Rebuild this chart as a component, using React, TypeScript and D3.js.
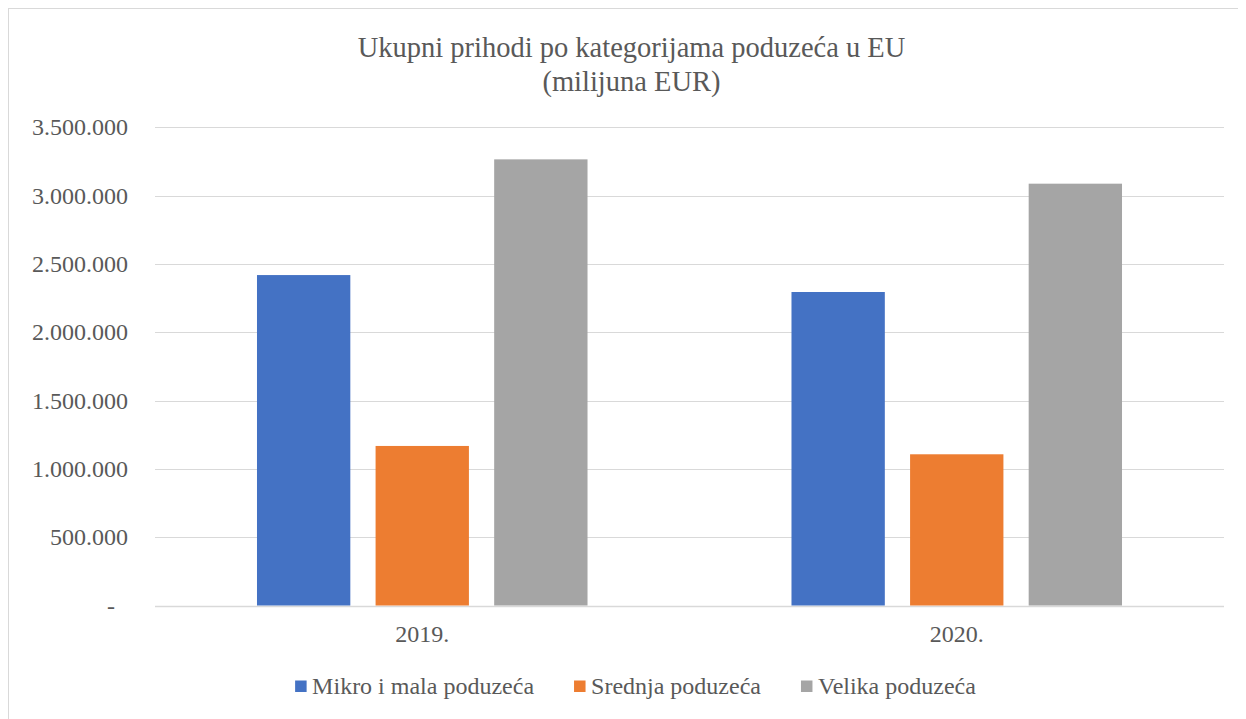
import React, { useEffect, useRef } from 'react';
import * as d3 from 'd3';

const years = ['2019.', '2020.'];
const seriesNames = ['Mikro i mala poduzeća', 'Srednja poduzeća', 'Velika poduzeća'];
const mikroValues = [2419000, 2295000];
const srednjaValues = [1168000, 1107000];
const velikaValues = [3266000, 3088000];
const yTicks = [0, 500000, 1000000, 1500000, 2000000, 2500000, 3000000, 3500000];
const colors = ['#4472C4', '#ED7D31', '#A5A5A5'];

const W = 1238;
const H = 711;
const FONT = '"Liberation Serif", "Times New Roman", serif';
const TEXT = '#595959';

export default function App() {
  const ref = useRef<SVGSVGElement>(null);

  useEffect(() => {
    const svg = d3.select(ref.current);
    svg.selectAll('*').remove();

    const margin = { left: 147, right: 22, top: 119.4, bottom: 113.5 };
    const values = [mikroValues, srednjaValues, velikaValues];

    // outer frame
    svg.append('rect')
      .attr('x', 0.5).attr('y', 0.5)
      .attr('width', W + 40).attr('height', H + 40)
      .attr('fill', '#fff').attr('stroke', '#d9d9d9');

    const title = svg.append('text')
      .attr('x', 623.5).attr('text-anchor', 'middle')
      .attr('font-family', FONT).attr('font-size', 28.5).attr('fill', TEXT);
    title.append('tspan').attr('x', 623.5).attr('y', 49).text('Ukupni prihodi po kategorijama poduzeća u EU');
    title.append('tspan').attr('x', 623.5).attr('y', 83).text('(milijuna EUR)');

    const y = d3.scaleLinear().domain([0, 3500000]).range([H - margin.bottom, margin.top]);
    const x0 = d3.scaleBand().domain(years).range([margin.left, W - margin.right]).padding(0);
    const bw = x0.bandwidth();
    const x1 = d3.scaleBand().domain(seriesNames)
      .range([bw * 0.1908, bw * 0.8092]).paddingInner(0.213).paddingOuter(0);

    const fmt = (v: number) => (v === 0 ? '-' : d3.format(',')(v).replace(/,/g, '.'));

    // grid
    const grid = svg.append('g');
    grid.selectAll('line').data(yTicks).join('line')
      .attr('x1', margin.left).attr('x2', W - margin.right)
      .attr('y1', (d) => Math.round(y(d)) + 0.5).attr('y2', (d) => Math.round(y(d)) + 0.5)
      .attr('stroke', '#d9d9d9').attr('stroke-width', (d) => (d === 0 ? 1.5 : 1.2));

    // y labels
    svg.append('g').selectAll('text').data(yTicks).join('text')
      .attr('x', (d) => (d === 0 ? 107 : 120)).attr('y', (d) => y(d) + 8)
      .attr('text-anchor', 'end')
      .attr('font-family', FONT).attr('font-size', 24).attr('fill', TEXT)
      .text(fmt);

    // bars
    const groups = svg.append('g').selectAll('g').data(years).join('g')
      .attr('transform', (d) => `translate(${x0(d)},0)`);
    groups.selectAll('rect')
      .data((yr, i) => seriesNames.map((s, k) => ({ s, v: values[k][i], c: colors[k] })))
      .join('rect')
      .attr('x', (d) => x1(d.s) as number)
      .attr('width', x1.bandwidth())
      .attr('y', (d) => y(d.v))
      .attr('height', (d) => y(0) - y(d.v))
      .attr('fill', (d) => d.c);

    // category labels
    svg.append('g').selectAll('text').data(years).join('text')
      .attr('x', (d) => (x0(d) as number) + bw / 2).attr('y', 634)
      .attr('text-anchor', 'middle')
      .attr('font-family', FONT).attr('font-size', 24).attr('fill', TEXT)
      .text((d) => d);

    // legend
    const legend = svg.append('g');
    const items = legend.selectAll('g').data(seriesNames).join('g');
    items.append('rect').attr('width', 11.5).attr('height', 11.5)
      .attr('y', 672.5).attr('fill', (d, i) => colors[i]);
    items.append('text').attr('x', 17).attr('y', 686)
      .attr('font-family', FONT).attr('font-size', 24).attr('fill', TEXT)
      .text((d) => d);
    const widths: number[] = [];
    items.select('text').each(function () {
      widths.push(17 + (this as SVGTextElement).getComputedTextLength());
    });
    const gap = 40;
    const total = d3.sum(widths) + gap * (widths.length - 1);
    let cx = 627.5 - total / 2;
    items.attr('transform', (d, i) => {
      const t = `translate(${cx},0)`;
      cx += widths[i] + gap;
      return t;
    });
  }, []);

  return <svg ref={ref} width={W} height={H} style={{ display: 'block' }} />;
}
